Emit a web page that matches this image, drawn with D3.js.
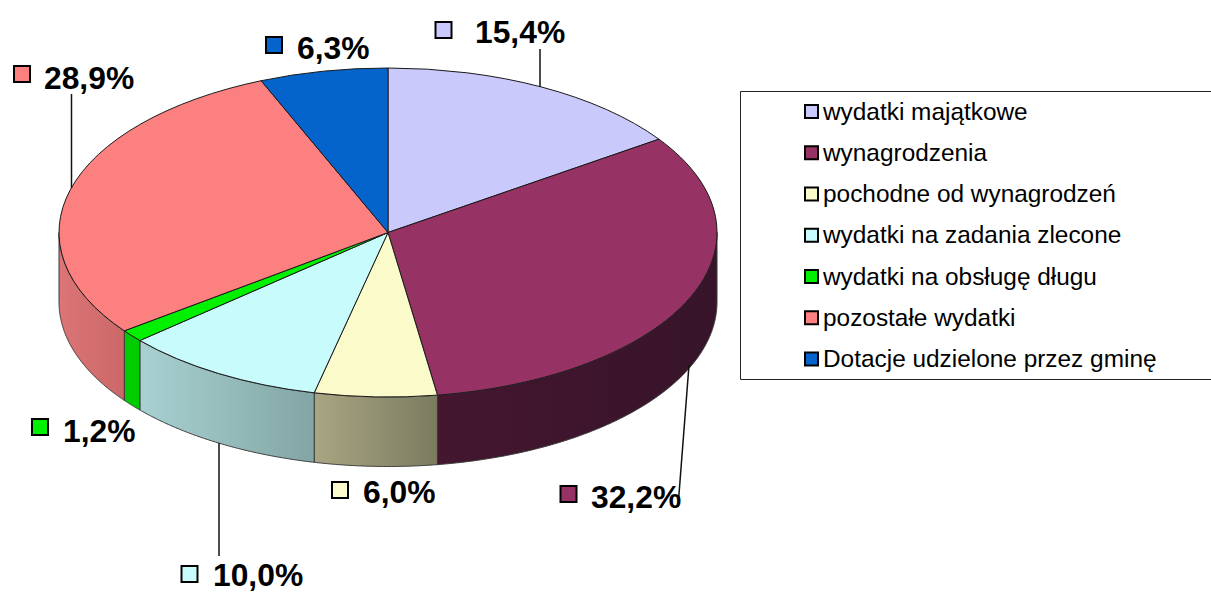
<!DOCTYPE html>
<html>
  <head>
    <meta charset="utf-8" />
    <script src="https://d3js.org/d3.v7.min.js"></script>
    <style>
      html, body { margin: 0; padding: 0; background: #fff; }
      svg { display: block; }
      text { font-family: "Liberation Sans", Arial, sans-serif; fill: #000; }
      .value { font-size: 31.8px; font-weight: bold; }
      .legend-text { font-size: 24.4px; }
    </style>
  </head>
  <body>
    <svg id="chart" width="1211" height="592"></svg>
    <script>
      const categories = [
        "wydatki majątkowe",
        "wynagrodzenia",
        "pochodne od wynagrodzeń",
        "wydatki na zadania zlecone",
        "wydatki na obsługę długu",
        "pozostałe wydatki",
        "Dotacje udzielone przez gminę",
      ];
      const values = [15.4, 32.2, 6.0, 10.0, 1.2, 28.9, 6.3];
      const colors = ["#c9c9fb", "#963264", "#fbfacb", "#c8fbfb", "#00f000", "#fc8080", "#0464cc"];

      // side wall gradients, left colour then right colour
      const sideLeft = ["#c9c9fb", "#44162f", "#a8a682", "#a9d1d1", "#00cc00", "#dc7575", "#0464cc"];
      const sideRight = ["#c9c9fb", "#37142a", "#7b7b60", "#82a5a5", "#00cc00", "#cc6868", "#0464cc"];

      // where each value label sits: [key x, key y, text x, baseline y]
      const labelPos = [
        [435.5, 22, 475, 43],
        [560.5, 486, 591, 508],
        [332, 482, 363, 503],
        [181.5, 566, 213, 586],
        [32, 419, 63, 442],
        [14, 66, 44, 89],
        [266, 37, 297, 59],
      ];
      // leader lines: [x1, y1, x2, y2]
      const leaders = [
        [540, 49, 540, 87],
        [689, 365, 678, 507],
        [219, 443, 219, 556],
        [71.5, 94, 71.5, 188],
      ];

      const svg = d3.select("svg#chart");
      const cx = 388, cy = 232.5, r = 329, squash = 0.5, depth = 69.5;

      const pct = d3.formatLocale({ decimal: ",", thousands: " ", grouping: [3], currency: ["", ""] }).format(".1f");

      const slices = d3.pie().sort(null).value((d) => d)(values);

      const px = (a) => cx + r * Math.sin(a);
      const py = (a) => cy - r * squash * Math.cos(a);

      // gradients for the front wall
      const defs = svg.append("defs");
      const frontFrom = Math.PI / 2, frontTo = Math.PI * 1.5;
      const front = slices
        .map((s, i) => ({
          i,
          a0: Math.max(s.startAngle, frontFrom),
          a1: Math.min(s.endAngle, frontTo),
        }))
        .filter((s) => s.a1 > s.a0);

      front.forEach((s) => {
        const xs = [px(s.a0), px(s.a1)];
        const g = defs
          .append("linearGradient")
          .attr("id", `side${s.i}`)
          .attr("gradientUnits", "userSpaceOnUse")
          .attr("x1", d3.min(xs))
          .attr("x2", d3.max(xs))
          .attr("y1", 0)
          .attr("y2", 0);
        g.append("stop").attr("offset", 0).attr("stop-color", sideLeft[s.i]);
        g.append("stop").attr("offset", 1).attr("stop-color", sideRight[s.i]);
      });

      const wall = d3
        .area()
        .x((a) => px(a))
        .y0((a) => py(a))
        .y1((a) => py(a) + depth);

      svg
        .append("g")
        .selectAll("path")
        .data(front)
        .join("path")
        .attr("d", (s) => wall(d3.range(s.a0, s.a1, 0.005).concat(s.a1)))
        .attr("fill", (s) => `url(#side${s.i})`)
        .attr("stroke", "#3a3a3a")
        .attr("stroke-width", 1);

      // top of the pie: a flat d3.arc squashed into an ellipse
      const arc = d3.arc().innerRadius(0).outerRadius(r);
      svg
        .append("g")
        .attr("transform", `translate(${cx},${cy}) scale(1,${squash})`)
        .selectAll("path")
        .data(slices)
        .join("path")
        .attr("d", arc)
        .attr("fill", (d, i) => colors[i])
        .attr("stroke", "#1a1a1a")
        .attr("stroke-width", 1)
        .attr("vector-effect", "non-scaling-stroke");

      svg
        .append("g")
        .selectAll("line")
        .data(leaders)
        .join("line")
        .attr("x1", (d) => d[0])
        .attr("y1", (d) => d[1])
        .attr("x2", (d) => d[2])
        .attr("y2", (d) => d[3])
        .attr("stroke", "#111")
        .attr("stroke-width", 1.5);

      // value labels with their little keys
      const labels = svg.append("g").selectAll("g").data(values).join("g");
      labels
        .append("rect")
        .attr("x", (d, i) => labelPos[i][0])
        .attr("y", (d, i) => labelPos[i][1])
        .attr("width", 16)
        .attr("height", 16)
        .attr("fill", (d, i) => colors[i])
        .attr("stroke", "#000")
        .attr("stroke-width", 2);
      labels
        .append("text")
        .attr("class", "value")
        .attr("x", (d, i) => labelPos[i][2])
        .attr("y", (d, i) => labelPos[i][3])
        .text((d) => `${pct(d)}%`);

      // legend box, runs off the right edge of the page
      svg
        .append("path")
        .attr("d", "M1212,91.5H740.5V379.5H1212")
        .attr("fill", "#fff")
        .attr("stroke", "#222")
        .attr("stroke-width", 1);

      const rowY = d3.scalePoint().domain(categories).range([111.5, 359]);
      const rows = svg
        .append("g")
        .selectAll("g")
        .data(categories)
        .join("g")
        .attr("transform", (d) => `translate(805,${rowY(d)})`);
      rows
        .append("rect")
        .attr("x", 0)
        .attr("y", -6.5)
        .attr("width", 13)
        .attr("height", 13)
        .attr("fill", (d, i) => colors[i])
        .attr("stroke", "#000")
        .attr("stroke-width", 2);
      rows
        .append("text")
        .attr("class", "legend-text")
        .attr("x", 18)
        .attr("y", 8)
        .text((d) => d);
    </script>
  </body>
</html>
